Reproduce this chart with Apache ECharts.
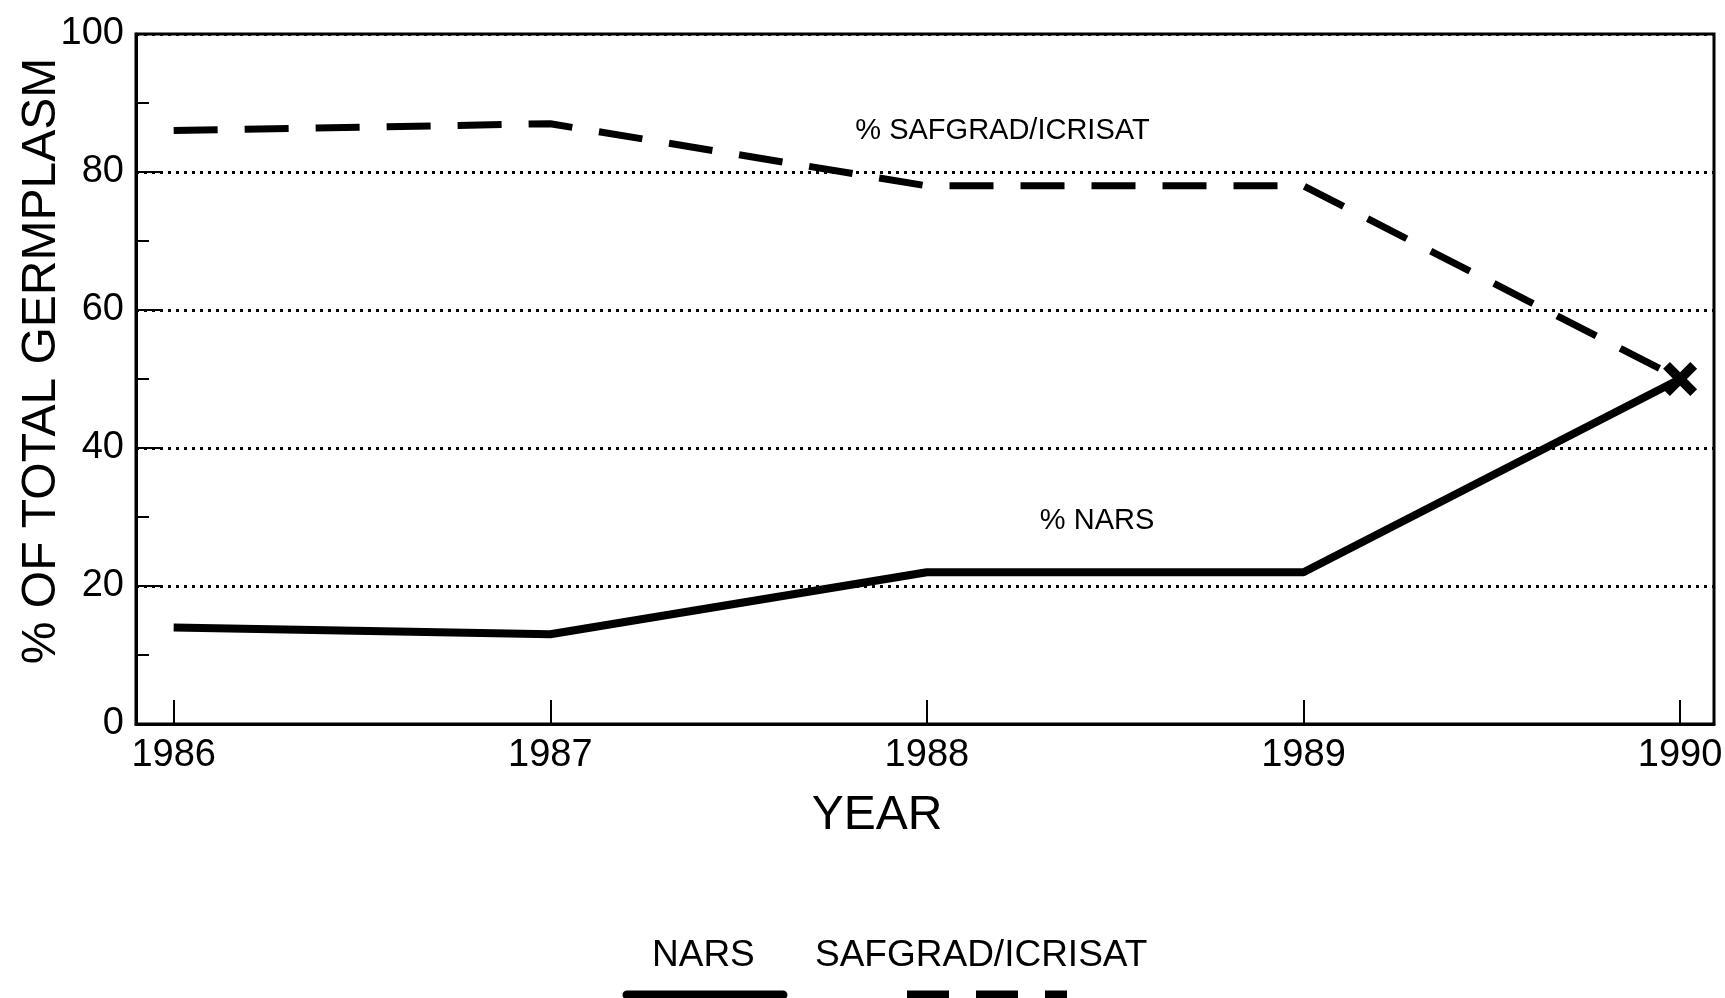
<!DOCTYPE html>
<html>
<head>
<meta charset="utf-8">
<script src="https://cdn.jsdelivr.net/npm/echarts@6/dist/echarts.min.js"></script>
<style>
  html, body { margin: 0; padding: 0; background: #fff; }
  #chart { width: 1725px; height: 998px; }
</style>
</head>
<body>
<div id="chart"></div>
<script>
// data
const years = [1986, 1987, 1988, 1989, 1990]
const narsPct = [14, 13, 22, 22, 50]
const safgradPct = [86, 87, 78, 78, 50]
const yTicks = [0, 20, 40, 60, 80, 100]

const FONT = "'Liberation Sans', Arial, sans-serif"

// X where the two lines meet at 1990
const crossPath = 'path://M0,2L2,0L5,3L8,0L10,2L7,5L10,8L8,10L5,7L2,10L0,8L3,5Z'

const narsData = years.map((y, i) => {
  const p = { value: [y, narsPct[i]] }
  if (i === years.length - 1) {
    p.symbol = crossPath
    p.symbolSize = 34
    p.itemStyle = { color: '#000' }
  }
  return p
})
const safgradData = years.map((y, i) => [y, safgradPct[i]])

const chart = echarts.init(document.getElementById('chart'))

const option = {
  backgroundColor: '#fff',
  animation: false,
  textStyle: { fontFamily: FONT, color: '#000' },
  grid: {
    left: 136,
    right: 11,
    top: 34,
    bottom: 274,
    outerBoundsMode: 'none',
    show: true,
    borderColor: '#000',
    borderWidth: 3
  },
  xAxis: {
    type: 'value',
    min: 1985.9,
    max: 1990.09,
    name: 'YEAR',
    nameLocation: 'middle',
    nameGap: 68,
    nameMoveOverlap: false,
    nameTextStyle: { fontSize: 48, color: '#000', fontFamily: FONT, padding: [0, 96, 0, 0] },
    axisLine: { show: true, lineStyle: { color: '#000', width: 3 } },
    axisTick: { show: true, inside: true, length: 24, lineStyle: { color: '#000', width: 2 }, customValues: years },
    axisLabel: { fontSize: 38, color: '#000', margin: 13, fontFamily: FONT, customValues: years, formatter: v => String(v) },
    splitLine: { show: false }
  },
  yAxis: {
    type: 'value',
    min: 0,
    max: 100,
    interval: 20,
    name: '% OF TOTAL GERMPLASM',
    nameLocation: 'middle',
    nameRotate: 90,
    nameGap: 70,
    nameMoveOverlap: false,
    nameTextStyle: { fontSize: 48, color: '#000', fontFamily: FONT, padding: [0, 0, 0, 36] },
    axisLine: { show: true, lineStyle: { color: '#000', width: 3 } },
    axisTick: { show: true, inside: true, length: 26, lineStyle: { color: '#000', width: 2 } },
    minorTick: { show: true, splitNumber: 2, length: 13, lineStyle: { color: '#000', width: 2 } },
    axisLabel: {
      fontSize: 38, color: '#000', margin: 12, fontFamily: FONT,
      customValues: yTicks
    },
    splitLine: { show: true, lineStyle: { color: '#000', width: 3, type: [3, 5] } }
  },
  series: [
    {
      name: 'NARS',
      type: 'line',
      data: narsData,
      symbol: 'none',
      lineStyle: { color: '#000', width: 8 },
      z: 3,
      markPoint: {
        symbol: 'circle',
        symbolSize: 0,
        silent: true,
        label: { show: true, position: 'right', distance: 0, fontSize: 29, color: '#000', fontFamily: FONT },
        data: [{ coord: [1988.3, 29.4], value: '% NARS', label: { formatter: '% NARS' } }]
      }
    },
    {
      name: 'SAFGRAD/ICRISAT',
      type: 'line',
      data: safgradData,
      symbol: 'none',
      lineStyle: { color: '#000', width: 7, type: [44, 27] },
      z: 3,
      markPoint: {
        symbol: 'circle',
        symbolSize: 0,
        silent: true,
        label: { show: true, position: 'right', distance: 0, fontSize: 29, color: '#000', fontFamily: FONT },
        data: [{ coord: [1987.81, 86], value: '% SAFGRAD/ICRISAT', label: { formatter: '% SAFGRAD/ICRISAT' } }]
      }
    }
  ],
  // legend drawn by hand: names sit above their line samples
  graphic: [
    { type: 'text', left: 704 - 52, top: 937, style: { text: 'NARS', fontSize: 37, fill: '#000', fontFamily: FONT } },
    { type: 'text', left: 986 - 171, top: 937, style: { text: 'SAFGRAD/ICRISAT', fontSize: 37, fill: '#000', fontFamily: FONT } },
    { type: 'line', shape: { x1: 627, y1: 995, x2: 783, y2: 995 }, style: { stroke: '#000', lineWidth: 9, lineCap: 'round' } },
    { type: 'line', shape: { x1: 907, y1: 995, x2: 1067, y2: 995 }, style: { stroke: '#000', lineWidth: 9, lineDash: [42, 27] } }
  ]
}

chart.setOption(option)
</script>
</body>
</html>
